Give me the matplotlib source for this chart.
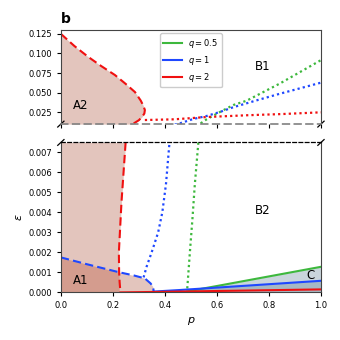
import numpy as np
import matplotlib
matplotlib.use("Agg")
import matplotlib.pyplot as plt

# ---------------- data ----------------
# q=2 boundary of A2 (upper panel, dashed red)
a2_eps = [0.125, 0.1095, 0.0957, 0.0840, 0.0725, 0.0610, 0.0508, 0.0400, 0.0335, 0.0280, 0.0235, 0.0195, 0.0150, 0.0100]
a2_p   = [0.000, 0.052, 0.105, 0.155, 0.208, 0.250, 0.285, 0.307, 0.317, 0.323, 0.321, 0.313, 0.300, 0.276]

# q=2 boundary in lower panel (dashed red)
r_eps = [0.0075, 0.0060, 0.0045, 0.0030, 0.0020, 0.0010, 0.0005, 0.0000]
r_p   = [0.249, 0.241, 0.233, 0.227, 0.223, 0.224, 0.226, 0.229]

# q=1 boundary of A1 (dashed blue)
bd_p   = [0.000, 0.100, 0.220, 0.280, 0.323, 0.345, 0.353, 0.356, 0.357]
bd_eps = [0.00175, 0.00141, 0.00102, 0.00085, 0.00070, 0.00045, 0.00030, 0.00015, 0.00004]

# dotted curves (span both panels)
bdot_p   = [0.318, 0.330, 0.349, 0.374, 0.390, 0.404, 0.417, 0.458, 0.509, 0.560, 0.612, 0.663, 0.750, 0.842, 1.000]
bdot_eps = [0.00075, 0.0013, 0.0020, 0.0030, 0.0040, 0.0054, 0.0074, 0.0110, 0.0165, 0.0203, 0.0255, 0.0315, 0.0400, 0.0487, 0.0628]

gdot_p   = [0.486, 0.496, 0.506, 0.515, 0.528, 0.540, 0.560, 0.612, 0.663, 0.714, 0.842, 1.000]
gdot_eps = [0.0002, 0.0020, 0.0037, 0.0054, 0.0074, 0.0115, 0.0160, 0.0255, 0.0343, 0.0398, 0.0617, 0.0915]

rdot_p   = [0.323, 0.436, 0.560, 0.718, 0.850, 1.000]
rdot_eps = [0.0152, 0.0161, 0.0190, 0.0213, 0.0228, 0.0250]

# solid lines (lower panel)
gs_p   = [0.486, 0.600, 0.800, 1.000]
gs_eps = [0.00005, 0.00032, 0.00080, 0.00128]
bs_p   = [0.356, 0.458, 0.600, 0.800, 1.000]
bs_eps = [0.00004, 0.00012, 0.00024, 0.00041, 0.00058]
rs_p   = [0.229, 0.400, 0.600, 0.800, 1.000]
rs_eps = [0.00000, 0.00003, 0.00007, 0.00011, 0.00015]

labels = ['$q = 0.5$', '$q = 1$', '$q = 2$']
GREEN, BLUE, RED = '#3db83d', '#1f48ff', '#f01010'
PALE, DARK = '#e3c5bd', '#d49c8e'
CFILL = '#5f8096'
DOT = (0, (1, 1.4))
DASH = (0, (4, 2))

# ---------------- figure ----------------
fig = plt.figure(figsize=(3.4, 3.4), dpi=100)
ax1 = fig.add_axes([0.179, 0.635, 0.765, 0.277])
ax2 = fig.add_axes([0.179, 0.140, 0.765, 0.441])

# upper panel
ax1.fill_betweenx(a2_eps, 0, a2_p, color=PALE, lw=0)
ax1.plot(a2_p, a2_eps, color=RED, ls=DASH, lw=1.5)
ax1.plot(gdot_p, gdot_eps, color=GREEN, ls=DOT, lw=1.6)
ax1.plot(bdot_p, bdot_eps, color=BLUE, ls=DOT, lw=1.6)
ax1.plot(rdot_p, rdot_eps, color=RED, ls=DOT, lw=1.6)
ax1.plot([], [], color=GREEN, lw=1.5, label=labels[0])
ax1.plot([], [], color=BLUE, lw=1.5, label=labels[1])
ax1.plot([], [], color=RED, lw=1.5, label=labels[2])
ax1.set_xlim(0, 1)
ax1.set_ylim(0.01, 0.13)
ax1.set_yticks([0.025, 0.05, 0.075, 0.1, 0.125])
ax1.set_yticklabels(['0.025', '0.050', '0.075', '0.100', '0.125'])
ax1.set_xticks([0, 0.2, 0.4, 0.6, 0.8, 1.0])
ax1.tick_params(labelbottom=False, labelsize=6, length=3)
ax1.spines['bottom'].set_linestyle((0, (4, 3)))
ax1.spines['bottom'].set_color('gray')
ax1.spines['bottom'].set_linewidth(1.2)
for s in ['top', 'left', 'right']:
    ax1.spines[s].set_color('#444444')
ax1.legend(loc='upper center', fontsize=6, handlelength=2.2, framealpha=1,
           borderaxespad=0.4)
ax1.text(0.046, 0.034, 'A2', fontsize=8.5, va='center')
ax1.text(0.746, 0.084, 'B1', fontsize=8.5, va='center')

# lower panel
ax2.fill_betweenx(r_eps, 0, r_p, color=PALE, lw=0)
ax2.fill_between(bd_p, 0, bd_eps, color=PALE, lw=0)
bd_p_a = np.array(bd_p)
bd_e_a = np.array(bd_eps)
mask = bd_p_a <= 0.23
xa = np.append(bd_p_a[mask], 0.224)
ya = np.append(bd_e_a[mask], 0.00098)
ax2.fill_between(xa, 0, ya, color=DARK, lw=0)

ax2.fill_between(gs_p, 0, gs_eps, color=CFILL, alpha=0.33, lw=0)
ax2.fill_between(bs_p, 0, bs_eps, color=CFILL, alpha=0.33, lw=0)

ax2.plot(r_p, r_eps, color=RED, ls=DASH, lw=1.5)
ax2.plot(bd_p, bd_eps, color=BLUE, ls=DASH, lw=1.5)
ax2.plot(gdot_p, gdot_eps, color=GREEN, ls=DOT, lw=1.6)
ax2.plot(bdot_p, bdot_eps, color=BLUE, ls=DOT, lw=1.6)
ax2.plot(gs_p, gs_eps, color=GREEN, lw=1.5)
ax2.plot(bs_p, bs_eps, color=BLUE, lw=1.5)
ax2.plot(rs_p, rs_eps, color=RED, lw=1.5)
ax2.set_xlim(0, 1)
ax2.set_ylim(0, 0.0075)
ax2.set_yticks([0, 0.001, 0.002, 0.003, 0.004, 0.005, 0.006, 0.007])
ax2.set_yticklabels(['0.000', '0.001', '0.002', '0.003', '0.004', '0.005', '0.006', '0.007'])
ax2.set_xticks([0, 0.2, 0.4, 0.6, 0.8, 1.0])
ax2.set_xticklabels(['0.0', '0.2', '0.4', '0.6', '0.8', '1.0'])
ax2.tick_params(labelsize=6, length=3)
ax2.spines['top'].set_linestyle((0, (3, 2)))
ax2.spines['top'].set_color('k')
ax2.spines['top'].set_linewidth(0.9)
for s in ['bottom', 'left', 'right']:
    ax2.spines[s].set_color('#444444')
ax2.set_xlabel('$p$', fontsize=8, labelpad=3)
ax2.set_ylabel('$\\varepsilon$', fontsize=8, labelpad=3)
ax2.text(0.046, 0.0006, 'A1', fontsize=8.5, va='center')
ax2.text(0.746, 0.0041, 'B2', fontsize=8.5, va='center')
ax2.text(0.945, 0.00085, 'C', fontsize=8.5, va='center')

# break marks
d = 0.012
kw = dict(color='k', clip_on=False, lw=0.9)
ax1.plot((-d, d), (-d * 2.6, d * 2.6), transform=ax1.transAxes, **kw)
ax1.plot((1 - d, 1 + d), (-d * 2.6, d * 2.6), transform=ax1.transAxes, **kw)
ax2.plot((-d, d), (1 - d * 1.6, 1 + d * 1.6), transform=ax2.transAxes, **kw)
ax2.plot((1 - d, 1 + d), (1 - d * 1.6, 1 + d * 1.6), transform=ax2.transAxes, **kw)

fig.text(0.179, 0.945, 'b', fontsize=10, fontweight='bold', va='center')

fig.savefig('out.png', dpi=100)
